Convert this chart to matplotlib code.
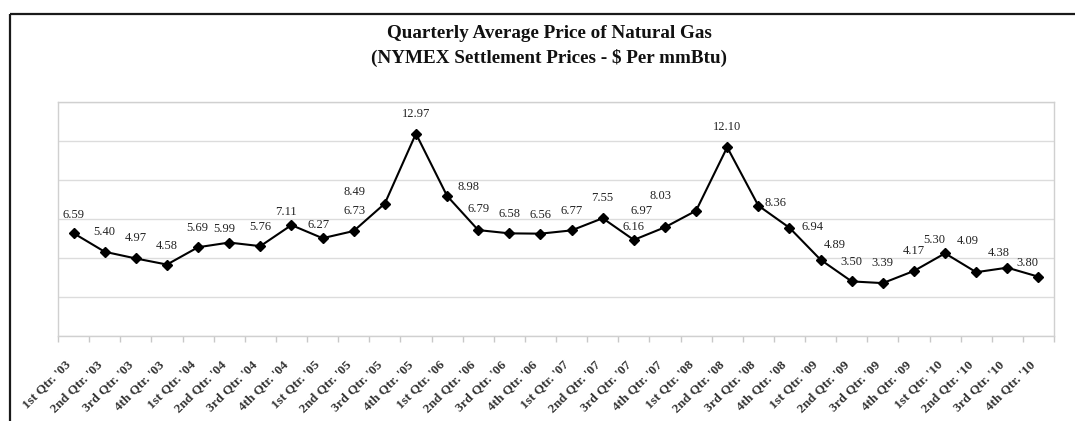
import matplotlib
matplotlib.use("Agg")
import matplotlib.pyplot as plt
from matplotlib.lines import Line2D
from matplotlib.ticker import FixedLocator, MultipleLocator
from matplotlib.transforms import ScaledTranslation

# Quarterly NYMEX settlement averages, $ per mmBtu
quarters = [
    "1st Qtr. '03", "2nd Qtr. '03", "3rd Qtr. '03", "4th Qtr. '03",
    "1st Qtr. '04", "2nd Qtr. '04", "3rd Qtr. '04", "4th Qtr. '04",
    "1st Qtr. '05", "2nd Qtr. '05", "3rd Qtr. '05", "4th Qtr. '05",
    "1st Qtr. '06", "2nd Qtr. '06", "3rd Qtr. '06", "4th Qtr. '06",
    "1st Qtr. '07", "2nd Qtr. '07", "3rd Qtr. '07", "4th Qtr. '07",
    "1st Qtr. '08", "2nd Qtr. '08", "3rd Qtr. '08", "4th Qtr. '08",
    "1st Qtr. '09", "2nd Qtr. '09", "3rd Qtr. '09", "4th Qtr. '09",
    "1st Qtr. '10", "2nd Qtr. '10", "3rd Qtr. '10", "4th Qtr. '10",
]
prices = [
    6.59, 5.40, 4.97, 4.58, 5.69, 5.99, 5.76, 7.11,
    6.27, 6.73, 8.49, 12.97, 8.98, 6.79, 6.58, 6.56,
    6.77, 7.55, 6.16, 6.97, 8.03, 12.10, 8.36, 6.94,
    4.89, 3.50, 3.39, 4.17, 5.30, 4.09, 4.38, 3.80,
]

# Label placement (pixel offsets from each marker)
label_dx = [0, 0, 0, 0, -1, -5, 0, -5, -4, 1, -30, 0, 21, 0, 0, 0,
            0, 0, 0, -23, -36, 0, 17, 23, 14, 0, 0, 0, -11, -8, -9, -11]
label_dy = [18, 20, 20, 19, 19, 14, 19, 13, 13, 20, 12, 20, 9, 21, 19, 19,
            19, 20, 13, 16, 15, 20, 3, 1, 15, 19, 20, 20, 13, 31, 15, 14]

plt.rcParams["font.family"] = ["Liberation Serif", "DejaVu Serif"]

W, H = 1075, 421
fig = plt.figure(figsize=(W / 100, H / 100), dpi=100)
fig.patch.set_facecolor("white")

# Outer frame (left and top edges)
fig.add_artist(Line2D([10 / W, 10 / W], [0, 1 - 14 / H], transform=fig.transFigure,
                      color="#1a1a1a", lw=1.6, solid_capstyle="butt"))
fig.add_artist(Line2D([10 / W, 1], [1 - 14 / H, 1 - 14 / H], transform=fig.transFigure,
                      color="#1a1a1a", lw=1.6, solid_capstyle="butt"))

fig.text(549 / W, 1 - 33 / H, "Quarterly Average Price of Natural Gas",
         ha="center", va="center", fontsize=13.8, fontweight="bold", color="#111")
fig.text(549 / W, 1 - 58 / H, "(NYMEX Settlement Prices - $ Per mmBtu)",
         ha="center", va="center", fontsize=13.8, fontweight="bold", color="#111")

left, right, top, bottom = 58, 1054, 102, 336
ax = fig.add_axes([left / W, 1 - bottom / H, (right - left) / W, (bottom - top) / H])

x = list(range(len(prices)))
ax.plot(x, prices, color="black", lw=1.5, marker="D", markersize=5.5,
        markerfacecolor="black", markeredgecolor="black", zorder=3)

for i, v in enumerate(prices):
    ax.annotate(f"{v:.2f}", (i, v), xytext=(label_dx[i], label_dy[i]),
                textcoords="offset pixels", ha="center", va="center",
                fontsize=9, color="#222")

ax.set_xlim(-0.5, len(prices) - 0.5)
ax.set_ylim(0, 15)
ax.yaxis.set_major_locator(MultipleLocator(2.5))
ax.grid(axis="y", color="#dcdcdc", lw=1.0)
ax.set_axisbelow(True)
ax.tick_params(axis="y", left=False, labelleft=False)

# Category boundaries carry the tick marks; labels sit at the centres
ax.xaxis.set_major_locator(FixedLocator([i - 0.5 for i in range(len(prices) + 1)]))
ax.xaxis.set_minor_locator(FixedLocator(x))
ax.tick_params(axis="x", which="major", length=4, width=1, color="#c8c8c8",
               direction="out", labelbottom=False)
ax.tick_params(axis="x", which="minor", length=0, pad=16)
ax.set_xticks(x, minor=True)
ax.set_xticklabels(quarters, minor=True, rotation=45, ha="right",
                   rotation_mode="anchor", fontsize=9.5, fontweight="bold",
                   color="#333")
shift = ScaledTranslation(-9 / 100, 0, fig.dpi_scale_trans)
for lbl in ax.xaxis.get_minorticklabels():
    lbl.set_transform(lbl.get_transform() + shift)

for s in ax.spines.values():
    s.set_color("#d0d0d0")
    s.set_linewidth(1.0)

fig.savefig("out.png", dpi=100, facecolor="white")
